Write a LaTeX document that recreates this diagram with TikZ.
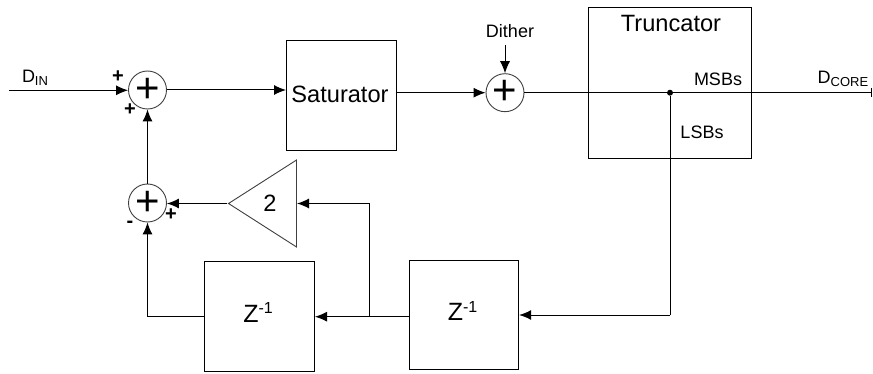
\documentclass[tikz,border=0pt]{standalone}
\usepackage{fontspec}
\setmainfont{Liberation Sans}
\usetikzlibrary{arrows.meta,shapes.geometric}
\newcommand{\fsz}[1]{\fontsize{#1}{#1}\selectfont}
\tikzset{
  x=1pt,y=-1pt,
  wire/.style={draw=black,line width=1pt},
  arr/.style={wire,-{Latex[length=12pt,width=10pt]}},
  blockbox/.style={draw=black,line width=1pt,inner sep=0pt,anchor=north west},
  sumnode/.style={circle,draw=black!75,line width=0.9pt,minimum size=38pt,inner sep=0pt,font=\fsz{42}},
  lbl/.style={inner sep=0pt,font=\fsz{18}},
  big/.style={inner sep=0pt,font=\fsz{23.6}},
  zed/.style={inner sep=0pt,font=\fsz{25}},
  sign/.style={inner sep=0pt,font=\bfseries\fsz{20}},
  amp/.style={isosceles triangle,isosceles triangle stretches,shape border rotate=180,draw=black!75,line width=0.9pt,inner sep=0pt,minimum width=87pt,minimum height=68pt,anchor=east},
  dotnode/.style={circle,fill=black,minimum size=6pt,inner sep=0pt}
}
\begin{document}
\begin{tikzpicture}
\useasboundingbox (0,0) rectangle (873,374);
\fill[white] (0,0) rectangle (873,374);
% blocks
\node[blockbox,minimum width=110pt,minimum height=110pt] (sat) at (286,40) {};
\node[big] (satl) at (340,94.5) {Saturator};
\node[blockbox,minimum width=163pt,minimum height=151pt] (trunc) at (588,7.5) {};
\node[big] (truncl) at (671,23) {Truncator};
\node[blockbox,minimum width=110pt,minimum height=110pt] (z1) at (204,261) {};
\node[zed] (z1l) at (258,312.5) {Z\raisebox{8.5pt}{\fsz{16}-1}};
\node[blockbox,minimum width=109.5pt,minimum height=109pt] (z2) at (408.7,260) {};
\node[zed] (z2l) at (462.5,311) {Z\raisebox{8.5pt}{\fsz{16}-1}};
\node[amp] (amp) at (297,203.5) {};
\node[big] (ampl) at (270,203.5) {2};
% summers
\node[sumnode] (s1) at (147.5,90) {+};
\node[sumnode] (s2) at (147.5,203) {+};
\node[sumnode] (s3) at (505,92.7) {+};
\node[dotnode] (dot) at (670,92.7) {};
% free ends
\coordinate (in) at (9,90.3);
\coordinate (out) at (871,92.7);
\coordinate (dith) at (505,45);
\coordinate (branch) at (369,316.7);
\coordinate (corner1) at (147.5,316.7);
\coordinate (corner2) at (670,315);
\coordinate (branchtop) at (369,203.5);
% connectors
\draw[arr] (in) -- (s1.west |- in);
\draw[arr] (s1.east) -- (sat.west |- s1.east);
\draw[arr] (sat.east |- s3) -- (s3.west);
\draw[wire] (s3.east) -- (dot);
\draw[wire] (dot) -- (out);
\draw[wire] (out |- 0,88) -- (out |- 0,97);
\draw[arr] (dith) -- (s3.north);
\draw[wire] (dot) -- (corner2);
\draw[arr] (corner2) -- (z2.east |- corner2);
\draw[wire] (z2.west |- branch) -- (branch);
\draw[arr] (branch) -- (z1.east |- branch);
\draw[wire] (branch) -- (branchtop);
\draw[arr] (branchtop) -- (amp.east);
\draw[arr] (amp.west) -- (s2.east |- amp.west);
\draw[wire] (z1.west |- corner1) -- (corner1);
\draw[arr] (corner1) -- (s2.south);
\draw[arr] (s2.north) -- (s1.south);
% labels
\node[lbl] (din) at (35,78) {D\raisebox{-3pt}{\fsz{13}IN}};
\node[lbl] (dcore) at (843,79) {D\raisebox{-3pt}{\fsz{13}CORE}};
\node[lbl] (dither) at (510,31) {Dither};
\node[lbl] (msb) at (718,79) {MSBs};
\node[lbl] (lsb) at (702,132) {LSBs};
\node[sign] (p1) at (118,77) {+};
\node[sign] (p2) at (130,109.5) {+};
\node[sign] (p3) at (171,215) {+};
\node[sign] (m1) at (130,224) {-};
\end{tikzpicture}
\end{document}
